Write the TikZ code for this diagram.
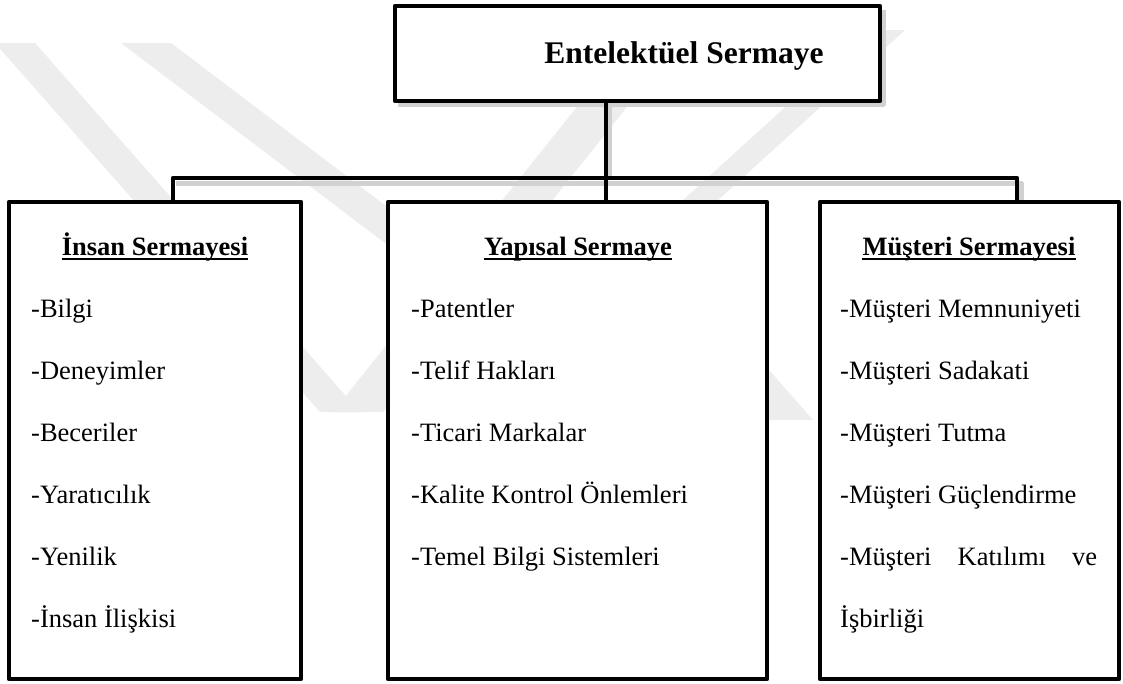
\documentclass[tikz,border=0pt]{standalone}
\usepackage{fontspec}
\setmainfont{Liberation Serif}
\begin{document}
\begin{tikzpicture}[x=1pt,y=-1pt,
  box/.style={draw=black,line width=4.2pt,line join=round,fill=white,inner sep=0pt},
  conn/.style={draw=black,line width=4.2pt,line join=round},
  shad/.style={draw=black!18,line width=5pt,line join=round},
  wm/.style={fill=black!7},
  ttl/.style={font=\fontsize{31.5}{36}\selectfont\bfseries,inner sep=0pt,anchor=base},
  head/.style={font=\fontsize{26.5}{30}\selectfont\bfseries,inner sep=0pt,anchor=base},
  item/.style={font=\fontsize{26.5}{30}\selectfont,inner sep=0pt,anchor=base west},
  uline/.style={line width=2.4pt},
]
\useasboundingbox (0,0) rectangle (1123,683);
\fill[white] (0,0) rectangle (1123,683);

% faint watermark bands
\begin{scope}
\clip (0,0) rectangle (1123,683);
\fill[wm] (-5,43) -- (35,43) -- (360,412) -- (320,412) -- cycle;
\fill[wm] (121,43) -- (171,43) -- (658,412) -- (608,412) -- cycle;
\fill[wm] (333,412) -- (383,412) -- (678,43) -- (628,43) -- cycle;
\fill[wm] (870,30) -- (905,30) -- (485,412) -- (450,412) -- cycle;
\fill[wm] (768,420) -- (813,420) -- (621,202) -- (576,202) -- cycle;
\end{scope}

% soft shadows
\draw[shad] (176,183) -- (1021,183) -- (1021,200);
\draw[shad] (609,104) -- (609,180);
\draw[shad] (883,10) -- (883,104) -- (398,104);

% boxes
\node[box,minimum width=485pt,minimum height=95pt] (top) at (637.5,53.5) {};
\node[box,minimum width=292pt,minimum height=477pt] (lbox) at (155,440.5) {};
\node[box,minimum width=379pt,minimum height=477pt] (mbox) at (577.5,440.5) {};
\node[box,minimum width=299pt,minimum height=477pt] (rbox) at (969.5,440.5) {};

% connectors
\coordinate (j) at (606,178);
\coordinate (bl) at (173,178);
\coordinate (br) at (1017,178);
\draw[conn] (top.south -| j) -- (mbox.north -| j);
\draw[conn] (lbox.north -| bl) -- (bl) -- (br) -- (rbox.north -| br);

% title
\node[ttl] (title) at (684,63) {Entelektüel Sermaye};

% headers
\node[head] (h1) at (155,255) {İnsan Sermayesi};
\node[head] (h2) at (578,255) {Yapısal Sermaye};
\node[head] (h3) at (969,255) {Müşteri Sermayesi};
\foreach \h in {h1,h2,h3}{
  \draw[uline] ([yshift=-4pt]\h.base west) -- ([yshift=-4pt]\h.base east);
}

% left items
\node[item] (l1) at (31,317) {-Bilgi};
\node[item] (l2) at (31,379) {-Deneyimler};
\node[item] (l3) at (31,441) {-Beceriler};
\node[item] (l4) at (31,503) {-Yaratıcılık};
\node[item] (l5) at (31,565) {-Yenilik};
\node[item] (l6) at (31,627) {-İnsan İlişkisi};

% middle items
\node[item] (m1) at (411,317) {-Patentler};
\node[item] (m2) at (411,379) {-Telif Hakları};
\node[item] (m3) at (411,441) {-Ticari Markalar};
\node[item] (m4) at (411,503) {-Kalite Kontrol Önlemleri};
\node[item] (m5) at (411,565) {-Temel Bilgi Sistemleri};

% right items
\node[item] (r1) at (840,317) {-Müşteri Memnuniyeti};
\node[item] (r2) at (840,379) {-Müşteri Sadakati};
\node[item] (r3) at (840,441) {-Müşteri Tutma};
\node[item] (r4) at (840,503) {-Müşteri Güçlendirme};
\node[item] (r5) at (840,565) {\hbox to 257pt{-Müşteri\hfill Katılımı\hfill ve}};
\node[item] (r6) at (840,627) {İşbirliği};
\end{tikzpicture}
\end{document}
